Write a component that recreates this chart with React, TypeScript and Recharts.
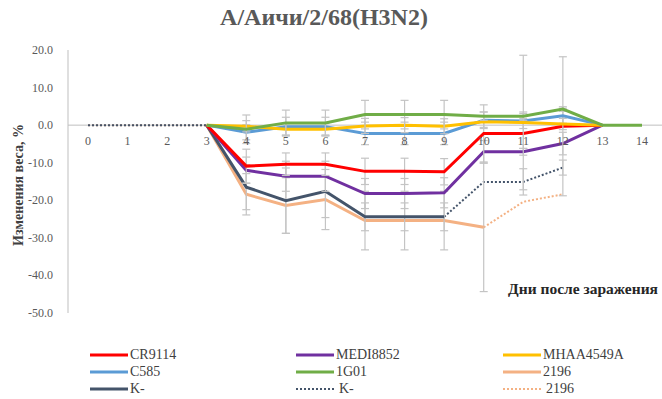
import React from 'react'
import { LineChart, Line, XAxis, YAxis, ReferenceLine, ErrorBar } from 'recharts'

const DAYS = [0, 1, 2, 3, 4, 5, 6, 7, 8, 9, 10, 11, 12, 13, 14]
const Y_TICKS = [-50, -40, -30, -20, -10, 0, 10, 20]

const CR9114 = [null, null, null, 0, -10.9, -10.4, -10.4, -12.3, -12.3, -12.4, -2.2, -2.2, -0.3, 0, null]
const CR9114_ERR = [null, null, null, null, 4.5, 3, 3, 3.5, 3.5, 3.5, 7.6, 4, 18.5, null, null]
const MEDI8852 = [null, null, null, 0, -12.0, -13.6, -13.6, -18.2, -18.2, -18.0, -7.1, -7.1, -4.9, 0, null]
const MEDI8852_ERR = [null, null, null, null, 3.5, 4, 4, 4, 4, 4, 3, 0.9, 3, null, null]
const MHAA4549A = [null, null, null, 0, -0.3, -1.1, -1.1, -0.2, 0, -0.3, 0.9, 0.7, 0.3, 0, null]
const MHAA4549A_ERR = [null, null, null, null, 1.5, 1.5, 1.5, 2, 2, 2, 1.5, 17.9, 1.5, null, null]
const C585 = [null, null, null, 0, -1.9, -0.4, -0.4, -2.2, -2.2, -2.2, 1.3, 1.1, 2.5, 0, null]
const C585_ERR = [null, null, null, null, 2, 2.5, 2.5, 3, 3, 3, 2.2, 2, 2, null, null]
const G1G01 = [null, null, null, 0, -1.1, 0.6, 0.6, 2.8, 2.8, 2.8, 2.4, 2.4, 4.3, 0, 0]
const G1G01_ERR = [null, null, null, null, 3.8, 3.4, 3.4, 3.8, 3.8, 3.8, 1.1, 1.1, 0.6, null, null]
const S2196 = [null, null, null, 0, -18.4, -21.4, -19.8, -25.4, -25.4, -25.4, -27.2, null, null, null, null]
const S2196_ERR = [null, null, null, null, 5.5, 7.4, 8, 7.8, 7.8, 7.8, 17.1, null, null, null, null]
const KNEG = [null, null, null, 0, -16.5, -20.1, -17.6, -24.4, -24.4, -24.4, null, null, null, null, null]
const KNEG_ERR = [null, null, null, null, 6, 8.7, 7, 3.7, 3.7, 3.7, null, null, null, null, null]
const KNEG_DOT = [0, 0, 0, 0, null, null, null, null, null, -24.4, -15.1, -15.1, -11.3, null, null]
const KNEG_DOT_ERR = [null, null, null, null, null, null, null, null, null, null, null, 3.5, 2, null, null]
const S2196_DOT = [0, 0, 0, 0, null, null, null, null, null, null, -27.2, -20.4, -18.4, null, null]

const W = 662
const H = 399
const PLOT_TOP = 50
const PLOT_BOTTOM = 313
const Y_MIN = -50
const Y_MAX = 20
const ZERO_Y = PLOT_TOP + ((PLOT_BOTTOM - PLOT_TOP) * Y_MAX) / (Y_MAX - Y_MIN)

const SERIF = "'Liberation Serif', 'DejaVu Serif', serif"
const ERR_COLOR = '#c4c4c4'

type Series = { key: string; name: string; color: string; values: (number | null)[]; err?: (number | null)[]; dotted?: boolean }

// drawing order (first = bottom)
const SERIES: Series[] = [
    { key: 's2196dot', name: '2196', color: '#F4B183', values: S2196_DOT, dotted: true },
    { key: 'kdot', name: 'K-', color: '#44546A', values: KNEG_DOT, err: KNEG_DOT_ERR, dotted: true },
    { key: 's2196', name: '2196', color: '#F4B183', values: S2196, err: S2196_ERR },
    { key: 'kneg', name: 'K-', color: '#44546A', values: KNEG, err: KNEG_ERR },
    { key: 'medi', name: 'MEDI8852', color: '#7030A0', values: MEDI8852, err: MEDI8852_ERR },
    { key: 'cr', name: 'CR9114', color: '#FF0000', values: CR9114, err: CR9114_ERR },
    { key: 'c585', name: 'C585', color: '#5B9BD5', values: C585, err: C585_ERR },
    { key: 'mhaa', name: 'MHAA4549A', color: '#FFC000', values: MHAA4549A, err: MHAA4549A_ERR },
    { key: 'g1', name: '1G01', color: '#70AD47', values: G1G01, err: G1G01_ERR },
]

const data = DAYS.map((d, i) => {
    const row: Record<string, number | null> = { day: d }
    SERIES.forEach((s) => {
        row[s.key] = s.values[i]
        if (s.err) row[s.key + 'Err'] = s.err[i]
    })
    return row
})

// legend grid: 3 columns x 3 rows, same order as the reference
const LEGEND = [
    ['cr', 'medi', 'mhaa'],
    ['c585', 'g1', 's2196'],
    ['kneg', 'kdot', 's2196dot'],
]
const LEGEND_COLS = [90, 296, 503]
const LEGEND_ROWS = [355, 372, 389]

function XTick({ x, payload }: any) {
    return (
        <text x={x} y={ZERO_Y + 20} textAnchor="middle" fontSize={12} fontFamily={SERIF} fill="#595959">
            {payload.value}
        </text>
    )
}

function YTick({ x, y, payload }: any) {
    return (
        <text x={x} y={y} dy={4} textAnchor="end" fontSize={12} fontFamily={SERIF} fill="#595959">
            {Number(payload.value).toFixed(1)}
        </text>
    )
}

export default function App() {
    return (
        <div style={{ position: 'relative', width: W, height: H, background: '#fff', fontFamily: SERIF }}>
            <style>{'body{margin:0}'}</style>
            <div style={{ position: 'absolute', top: 4, left: 0, width: 648, textAlign: 'center', fontSize: 24, fontWeight: 'bold', color: '#595959' }}>
                A/Аичи/2/68(H3N2)
            </div>
            <LineChart width={W} height={H} data={data} margin={{ top: PLOT_TOP, right: 0, left: 0, bottom: H - PLOT_BOTTOM - 1 }}>
                <XAxis dataKey="day" height={1} axisLine={false} tickLine={false} tick={<XTick />} padding={{ left: 20, right: 20 }} interval={0} />
                <YAxis
                    domain={[Y_MIN, Y_MAX]}
                    ticks={Y_TICKS}
                    width={68}
                    tickSize={0}
                    tickMargin={15}
                    tickLine={false}
                    axisLine={{ stroke: '#bfbfbf' }}
                    tick={<YTick />}
                    label={{
                        content: () => (
                            <text x={18} y={185} transform="rotate(-90 18 185)" textAnchor="middle" dominantBaseline="central"
                                fontSize={14} fontWeight="bold" fontFamily={SERIF} fill="#404040">
                                Изменения веса, %
                            </text>
                        ),
                    }}
                />
                <ReferenceLine y={0} stroke="#bfbfbf" strokeWidth={1} />
                {SERIES.map((s) => (
                    <Line
                        key={s.key}
                        dataKey={s.key}
                        stroke={s.color}
                        strokeWidth={s.dotted ? 2 : 3}
                        strokeDasharray={s.dotted ? '2 2' : undefined}
                        dot={false}
                        activeDot={false}
                        isAnimationActive={false}
                    >
                        {s.err ? <ErrorBar dataKey={s.key + 'Err'} width={4} stroke={ERR_COLOR} strokeWidth={1.2} /> : null}
                    </Line>
                ))}
            </LineChart>
            <div style={{ position: 'absolute', right: 4, top: 280, fontSize: 15.5, fontWeight: 'bold', color: '#262626' }}>
                Дни после заражения
            </div>
            {LEGEND.map((row, r) =>
                row.map((key, c) => {
                    const s = SERIES.find((x) => x.key === key)!
                    return (
                        <div key={key} style={{ position: 'absolute', left: LEGEND_COLS[c], top: LEGEND_ROWS[r] - 9, height: 18, display: 'flex', alignItems: 'center', fontSize: 14, color: '#404040' }}>
                            <svg width={40} height={18}>
                                <line x1={0} x2={38} y1={9} y2={9} stroke={s.color} strokeWidth={s.dotted ? 2 : 3} strokeDasharray={s.dotted ? '2 2' : undefined} />
                            </svg>
                            <span style={{ marginLeft: s.dotted ? 3 : 0 }}>{s.name}</span>
                        </div>
                    )
                })
            )}
        </div>
    )
}
